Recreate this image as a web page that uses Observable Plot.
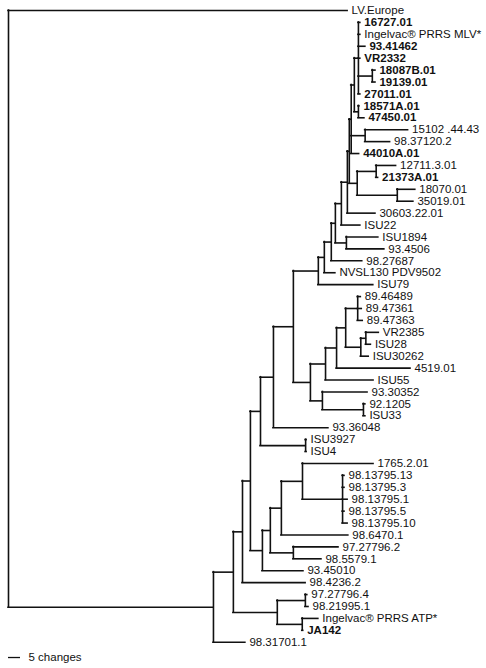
<!DOCTYPE html>
<html><head><meta charset="utf-8">
<script src="https://cdn.jsdelivr.net/npm/d3@7"></script>
<script src="https://cdn.jsdelivr.net/npm/@observablehq/plot@0.6"></script>
<style>html,body{margin:0;padding:0;background:#fff;}</style>
</head><body><div id="chart"></div>
<script>
// Leaves, top to bottom
const leafOrder = [
  "LV.Europe","16727.01","Ingelvac® PRRS MLV*","93.41462","VR2332","18087B.01","19139.01",
  "27011.01","18571A.01","47450.01","15102 .44.43","98.37120.2","44010A.01","12711.3.01",
  "21373A.01","18070.01","35019.01","30603.22.01","ISU22","ISU1894","93.4506","98.27687",
  "NVSL130 PDV9502","ISU79","89.46489","89.47361","89.47363","VR2385","ISU28","ISU30262",
  "4519.01","ISU55","93.30352","92.1205","ISU33","93.36048","ISU3927","ISU4","1765.2.01",
  "98.13795.13","98.13795.3","98.13795.1","98.13795.5","98.13795.10","98.6470.1",
  "97.27796.2","98.5579.1","93.45010","98.4236.2","97.27796.4","98.21995.1",
  "Ingelvac® PRRS ATP*","JA142","98.31701.1"
];
const boldLeaves = ["16727.01","93.41462","VR2332","18087B.01","19139.01","27011.01",
  "18571A.01","47450.01","44010A.01","21373A.01","JA142"];

// [child, parent, branch length in changes]
const edges = [
  ["LV.Europe","root",141.3],
  ["n213","root",85.4],
  ["98.31701.1","n213",13.3],
  ["n233","n213",8.3],
  ["n242","n233",3.8],
  ["98.4236.2","n242",26.3],
  ["n277","n233",18.3],
  ["n305b","n277",11.7],
  ["97.27796.4","n305b",0.8],
  ["98.21995.1","n305b",1.3],
  ["n302b","n277",10.4],
  ["Ingelvac® PRRS ATP*","n302b",6.7],
  ["JA142","n302b",0.4],
  ["n250","n242",3.3],
  ["n260","n250",4.2],
  ["n262","n250",5.0],
  ["93.45010","n262",17.1],
  ["n270","n262",3.3],
  ["n280","n270",4.6],
  ["98.6470.1","n280",27.9],
  ["n302","n280",8.8],
  ["1765.2.01","n302",29.6],
  ["n342","n302",16.7],
  ["98.13795.13","n342",0.8],
  ["98.13795.3","n342",0.8],
  ["98.13795.1","n342",2.1],
  ["98.13795.5","n342",0.8],
  ["98.13795.10","n342",2.1],
  ["n293b","n270",9.6],
  ["97.27796.2","n293b",18.8],
  ["98.5579.1","n293b",11.7],
  ["n305","n260",18.8],
  ["ISU3927","n305",0.4],
  ["ISU4","n305",0.4],
  ["n273","n260",5.4],
  ["93.36048","n273",22.9],
  ["n293","n273",8.3],
  ["n310","n293",7.1],
  ["n325","n310",6.3],
  ["ISU55","n325",20.0],
  ["n336","n325",4.6],
  ["4519.01","n336",30.8],
  ["n345","n336",3.8],
  ["n357","n345",5.0],
  ["89.46489","n357",1.3],
  ["89.47361","n357",1.7],
  ["89.47363","n357",2.1],
  ["n360","n345",6.3],
  ["n365b","n360",2.1],
  ["VR2385","n365b",5.4],
  ["ISU28","n365b",2.1],
  ["ISU30262","n360",3.3],
  ["n322","n310",5.0],
  ["93.30352","n322",18.8],
  ["n363","n322",17.1],
  ["92.1205","n363",0.8],
  ["ISU33","n363",0.8],
  ["n318","n293",10.4],
  ["ISU79","n318",22.9],
  ["n324","n318",2.5],
  ["NVSL130 PDV9502","n324",4.6],
  ["n331","n324",2.9],
  ["98.27687","n331",12.9],
  ["n335","n331",1.7],
  ["n346","n335",4.6],
  ["ISU1894","n346",13.3],
  ["93.4506","n346",15.8],
  ["n341","n335",2.5],
  ["ISU22","n341",7.9],
  ["n347","n341",2.5],
  ["30603.22.01","n347",11.7],
  ["n349","n347",0.8],
  ["n357b","n349",3.3],
  ["n376","n357b",7.9],
  ["12711.3.01","n376",8.3],
  ["21373A.01","n376",0.8],
  ["n397","n357b",16.7],
  ["18070.01","n397",7.5],
  ["35019.01","n397",6.7],
  ["n351","n349",0.8],
  ["44010A.01","n351",3.3],
  ["n365","n351",5.8],
  ["15102 .44.43","n365",17.9],
  ["98.37120.2","n365",10.4],
  ["n354","n351",1.3],
  ["n358b","n354",1.7],
  ["18571A.01","n358b",0.4],
  ["47450.01","n358b",2.5],
  ["n358","n354",1.7],
  ["16727.01","n358",0.8],
  ["Ingelvac® PRRS MLV*","n358",0.8],
  ["93.41462","n358",2.9],
  ["VR2332","n358",0.8],
  ["n372","n358",5.8],
  ["18087B.01","n372",1.3],
  ["19139.01","n372",1.3],
  ["27011.01","n358",0.8]
];
const scaleBarChanges = 5;
const scaleBarLabel = "5 changes";

// Build tree
const nodes = new Map();
const getNode = id => { if (!nodes.has(id)) nodes.set(id, {id, parent: null, len: 0, children: []}); return nodes.get(id); };
getNode("root");
for (const [c, p, l] of edges) { const n = getNode(c); n.parent = p; n.len = l; getNode(p).children.push(c); }
function setDepth(id, d) { const n = nodes.get(id); n.depth = d; for (const c of n.children) setDepth(c, d + nodes.get(c).len); }
setDepth("root", 0);
function setY(id) {
  const n = nodes.get(id);
  if (!n.children.length) { n.y = leafOrder.indexOf(id); n.ymin = n.ymax = n.y; return n.y; }
  const ys = n.children.map(setY);
  n.ymin = Math.min(...ys); n.ymax = Math.max(...ys); n.y = (n.ymin + n.ymax) / 2; return n.y;
}
setY("root");

const all = [...nodes.values()];
const horiz = all.filter(n => n.parent).map(n => ({y: n.y, x1: nodes.get(n.parent).depth, x2: n.depth}));
const vert = all.filter(n => n.children.length).map(n => ({x: n.depth, y1: n.ymin, y2: n.ymax}));
const leaves = all.filter(n => !n.children.length).map(n => ({x: n.depth, y: n.y, name: n.id, bold: boldLeaves.includes(n.id)}));
const scaleBar = [{y: leafOrder.length + 0.28, x1: 0, x2: scaleBarChanges, label: scaleBarLabel}];

const lineOpts = {stroke: "#111", strokeWidth: 1.6, strokeLinecap: "square"};
const chart = Plot.plot({
  width: 486, height: 668,
  style: {fontFamily: "'Liberation Sans', Arial, Helvetica, sans-serif", fontSize: "11.5px", background: "#fff", color: "#111"},
  x: {domain: [0, 200], range: [8, 488], axis: null},
  y: {domain: [0, 55], range: [10, 10 + 55 * 11.92], axis: null},
  marks: [
    Plot.ruleY(horiz, {y: "y", x1: "x1", x2: "x2", ...lineOpts}),
    Plot.ruleX(vert, {x: "x", y1: "y1", y2: "y2", ...lineOpts}),
    Plot.text(leaves.filter(d => !d.bold), {x: "x", y: "y", text: "name", dx: 4, textAnchor: "start", fill: "#111"}),
    Plot.text(leaves.filter(d => d.bold), {x: "x", y: "y", text: "name", dx: 4, textAnchor: "start", fontWeight: "bold", fill: "#111"}),
    Plot.ruleY(scaleBar, {y: "y", x1: "x1", x2: "x2", stroke: "#111", strokeWidth: 1.3}),
    Plot.text(scaleBar, {x: "x2", y: "y", text: "label", dx: 8, textAnchor: "start", fill: "#111"})
  ]
});
document.getElementById("chart").appendChild(chart);
</script>
</body></html>
